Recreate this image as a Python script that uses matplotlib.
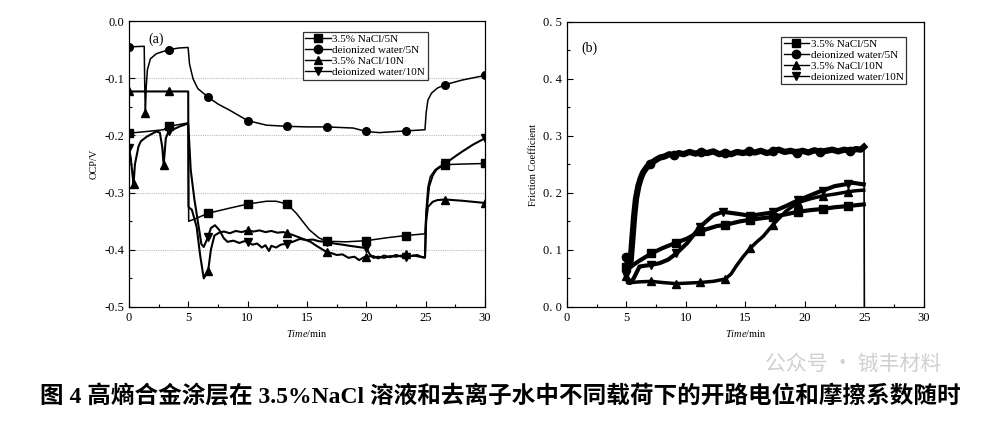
import numpy as np
import matplotlib
matplotlib.use("Agg")
import matplotlib.pyplot as plt
from matplotlib.lines import Line2D

plt.rcParams['font.family'] = ['Liberation Serif', 'Noto Sans CJK SC']
plt.rcParams['mathtext.fontset'] = 'custom'
plt.rcParams['mathtext.rm'] = 'Liberation Serif'
plt.rcParams['mathtext.it'] = 'Liberation Serif:italic'

labels = ["3.5% NaCl/5N", "deionized water/5N", "3.5% NaCl/10N", "deionized water/10N"]
markers = ["s", "o", "^", "v"]

# ---- (a) open circuit potential ----
sq_t = [0, 1.5, 2.9, 3.33, 4.2, 4.99, 5.03, 5.3, 6.0, 6.67, 8.5, 10, 11.6, 12.4, 13.33, 14.1, 15.2, 16.0,
        16.67, 18.3, 20, 21.7, 23.33, 24.95, 25.05, 25.2, 25.4, 25.8, 26.2, 26.67, 28.1, 30]
sq_v = [-0.196, -0.193, -0.19, -0.184, -0.181, -0.178, -0.350, -0.348, -0.342, -0.336, -0.327, -0.320,
        -0.315, -0.315, -0.320, -0.336, -0.365, -0.379, -0.385, -0.386, -0.384, -0.379, -0.375, -0.372,
        -0.330, -0.290, -0.272, -0.260, -0.254, -0.251, -0.250, -0.249]

ci_t = [0, 1.28, 1.33, 1.38, 1.45, 1.55, 1.8, 2.3, 3.33, 4.2, 4.98, 5.1, 5.4, 5.8, 6.67, 7.5, 8.5, 10,
        11.6, 13.33, 15, 16.67, 18.9, 20, 21.1, 23.33, 24.95, 25.05, 25.2, 25.5, 26.0, 26.67, 28.1, 30]
ci_v = [-0.045, -0.044, -0.120, -0.160, -0.115, -0.085, -0.066, -0.057, -0.050, -0.047, -0.046, -0.075,
        -0.101, -0.118, -0.133, -0.145, -0.156, -0.174, -0.182, -0.184, -0.185, -0.185, -0.187, -0.193,
        -0.195, -0.192, -0.190, -0.160, -0.138, -0.126, -0.117, -0.111, -0.103, -0.095]

ut_t = [0, 3.33, 4.99, 5.01, 5.3, 5.7, 6.0, 6.3, 6.67, 6.9, 7.2, 7.6, 8.0, 8.5, 9.0, 9.5, 10, 10.5, 11,
        11.5, 12, 12.5, 13, 13.33, 13.8, 14.3, 14.8, 15.3, 15.8, 16.2, 16.67, 17.1, 17.5, 18, 18.5, 19,
        19.4, 19.8, 20, 20.6, 21, 21.5, 22, 22.5, 23, 23.33, 23.8, 24.3, 24.7, 24.95, 25.05, 25.2, 25.6,
        26.0, 26.67, 28, 30]
ut_v = [-0.123, -0.123, -0.123, -0.325, -0.330, -0.360, -0.410, -0.450, -0.437, -0.400, -0.375, -0.370,
        -0.368, -0.371, -0.367, -0.369, -0.366, -0.368, -0.366, -0.369, -0.367, -0.370, -0.369, -0.371,
        -0.374, -0.378, -0.382, -0.386, -0.393, -0.398, -0.404, -0.406, -0.409, -0.408, -0.414, -0.412,
        -0.418, -0.413, -0.412, -0.411, -0.415, -0.410, -0.413, -0.409, -0.412, -0.407, -0.411, -0.409,
        -0.413, -0.414, -0.350, -0.325, -0.316, -0.313, -0.312, -0.314, -0.318]

dt_t = [0, 0.15, 0.3, 0.38, 0.5, 0.8, 1.0, 1.5, 2.3, 2.6, 2.8, 2.92, 3.1, 3.33, 4.3, 4.99, 5.2, 5.5, 5.8,
        6.1, 6.3, 6.67, 6.9, 7.25, 7.6, 8.0, 8.3, 8.8, 9.3, 9.7, 10, 10.4, 10.8, 11.2, 11.5, 11.8, 12.0,
        12.4, 12.8, 13.33, 13.8, 14.4, 15, 15.5, 16, 16.67, 17.3, 18, 18.6, 19.3, 20, 20.3, 20.6, 21,
        21.5, 22, 22.5, 23, 23.33, 24, 24.5, 24.95, 25.05, 25.3, 25.6, 25.9, 26.67, 27.4, 28.1, 29, 30]
dt_v = [-0.222, -0.240, -0.270, -0.285, -0.250, -0.219, -0.210, -0.202, -0.193, -0.195, -0.220, -0.252,
        -0.205, -0.193, -0.184, -0.179, -0.260, -0.310, -0.350, -0.390, -0.395, -0.377, -0.362, -0.357,
        -0.365, -0.380, -0.386, -0.384, -0.388, -0.385, -0.386, -0.391, -0.389, -0.396, -0.392, -0.402,
        -0.393, -0.396, -0.391, -0.389, -0.386, -0.381, -0.383, -0.382, -0.385, -0.386, -0.389, -0.391,
        -0.393, -0.395, -0.397, -0.408, -0.414, -0.412, -0.414, -0.411, -0.412, -0.410, -0.412, -0.410,
        -0.412, -0.413, -0.340, -0.289, -0.270, -0.260, -0.249, -0.238, -0.228, -0.216, -0.205]

marks_a = [0, 3.33, 6.67, 10, 13.33, 16.67, 20, 23.33, 26.67, 30]
# extra triangle symbols sitting on the early spikes
spike_t = [0.38, 1.38, 2.92]
spike_v = [-0.285, -0.160, -0.252]

# ---- (b) friction coefficient ----
sq2_t = [4.95, 5.2, 6.0, 7.1, 8.0, 9.2, 10.1, 11.2, 12.6, 13.3, 14.5, 15.4, 16.5, 17.3, 18.5, 19.4,
         20.5, 21.5, 22.5, 23.6, 24.5, 24.95]
sq2_v = [0.071, 0.068, 0.080, 0.094, 0.103, 0.113, 0.120, 0.133, 0.142, 0.144, 0.150, 0.153, 0.156,
         0.158, 0.163, 0.167, 0.170, 0.172, 0.175, 0.177, 0.179, 0.180]

ci2_t = [4.98, 5.2, 5.35, 5.5, 5.65, 5.8, 6.0, 6.2, 6.4, 6.7, 7.0, 7.4, 7.8, 8.2, 8.6, 9.0, 9.4, 9.8,
         10.3, 10.8, 11.3, 11.8, 12.3, 12.8, 13.3, 13.8, 14.3, 14.8, 15.3, 15.8, 16.3, 16.8, 17.3, 17.8,
         18.3, 18.8, 19.3, 19.8, 20.3, 20.8, 21.3, 21.8, 22.3, 22.8, 23.3, 23.8, 24.3, 24.7, 24.97, 25.0]
ci2_v = [0.088, 0.070, 0.080, 0.120, 0.160, 0.190, 0.212, 0.226, 0.236, 0.245, 0.251, 0.257, 0.262,
         0.264, 0.268, 0.266, 0.270, 0.268, 0.272, 0.269, 0.272, 0.270, 0.273, 0.268, 0.271, 0.268, 0.272,
         0.270, 0.273, 0.271, 0.274, 0.270, 0.273, 0.276, 0.272, 0.274, 0.271, 0.274, 0.271, 0.275, 0.272,
         0.274, 0.276, 0.273, 0.276, 0.274, 0.277, 0.276, 0.281, 0.0]

ut2_t = [4.95, 5.1, 5.5, 6.0, 7.1, 8.0, 9.2, 10.2, 11.2, 12.3, 13.3, 13.8, 14.2, 14.8, 15.4, 16.0, 16.5,
         17.3, 18.4, 19.4, 20.5, 21.5, 22.5, 23.6, 24.3, 24.95]
ut2_v = [0.055, 0.042, 0.043, 0.044, 0.045, 0.043, 0.041, 0.042, 0.043, 0.045, 0.049, 0.058, 0.071,
         0.088, 0.103, 0.115, 0.124, 0.144, 0.168, 0.183, 0.190, 0.195, 0.198, 0.202, 0.204, 0.205]

dt2_t = [4.95, 5.3, 5.6, 6.1, 7.1, 7.8, 8.5, 9.2, 10.1, 11.2, 12.3, 13.1, 14.5, 15.4, 17.0, 17.3,
         18.5, 19.4, 20.0, 21.3, 21.5, 22.5, 23.6, 24.0, 24.95]
dt2_v = [0.056, 0.042, 0.050, 0.071, 0.074, 0.077, 0.083, 0.094, 0.112, 0.141, 0.161, 0.167, 0.163,
         0.160, 0.165, 0.167, 0.178, 0.187, 0.192, 0.203, 0.204, 0.212, 0.216, 0.218, 0.215]

marks_b = [5, 7.1, 9.2, 11.2, 13.3, 15.4, 17.3, 19.4, 21.5, 23.6]


def mark_idx(t, marks):
    t = np.asarray(t)
    return [int(np.argmin(np.abs(t - m))) for m in marks]


fig = plt.figure(figsize=(9.94, 4.21), dpi=100)
axa = fig.add_axes([0.1298, 0.2708, 0.358, 0.679])
axb = fig.add_axes([0.5704, 0.2708, 0.359, 0.677])

series_a = [(sq_t, sq_v, 1.1), (ci_t, ci_v, 1.1), (ut_t, ut_v, 1.5), (dt_t, dt_v, 1.5)]
for (t, v, lw), m in zip(series_a, markers):
    axa.plot(t, v, color='black', lw=lw, marker=m, ms=5.5, markevery=mark_idx(t, marks_a))
axa.plot(spike_t, spike_v, ls='none', marker='^', ms=5.5, color='black')

series_b = [(sq2_t, sq2_v, 3.0), (ci2_t[:-1], ci2_v[:-1], 4.5), (ut2_t, ut2_v, 2.5), (dt2_t, dt2_v, 3.0)]
for (t, v, lw), m in zip(series_b, markers):
    axb.plot(t, v, color='black', lw=lw, marker=m, ms=6, markevery=mark_idx(t, marks_b))
# end of the test: friction trace falls back to zero
axb.plot(ci2_t[-2:], ci2_v[-2:], color='black', lw=1.2)

# legend handles with thin lines as in the original
handles = [Line2D([], [], color='black', lw=1.0, marker=m, ms=6) for m in markers]

for ax, anchor in ((axa, (0.489, 0.962)), (axb, (0.601, 0.948))):
    ax.set_xlim(0, 30)
    ax.set_xticks(np.arange(0, 31, 5))
    ax.set_xticks(np.arange(0, 31, 2.5), minor=True)
    ax.tick_params(direction='in', which='major', length=4, width=0.8, labelsize=9)
    ax.tick_params(direction='in', which='minor', length=2, width=0.8)
    for s in ax.spines.values():
        s.set_linewidth(0.9)
    ax.set_xlabel(r"$\it{Time}$/min", fontsize=7.5, labelpad=3)
    leg = ax.legend(handles, labels, loc='upper left', bbox_to_anchor=anchor, fontsize=8,
                    frameon=True, fancybox=False, edgecolor='black', borderpad=0.2,
                    labelspacing=0.12, handlelength=2.3, handletextpad=0.15, borderaxespad=0.0)
    leg.get_frame().set_linewidth(0.9)

axa.set_ylim(-0.5, 0.0)
axa.set_yticks(np.arange(-0.5, 0.01, 0.1))
axa.set_yticks(np.arange(-0.5, 0.01, 0.05), minor=True)
axa.set_yticklabels(["-0.5", "-0.4", "-0.3", "-0.2", "-0.1", "0.0"])
for g in [-0.1, -0.2, -0.3, -0.4]:
    axa.axhline(g, color='#bbbbbb', lw=0.8, ls=(0, (1, 1)), zorder=0)
axa.set_ylabel("OCP/V", fontsize=7.5, labelpad=4)
axa.text(0.055, 0.96, "(a)", transform=axa.transAxes, fontsize=10, va='top')

axb.set_ylim(0, 0.5)
axb.set_yticks(np.arange(0, 0.51, 0.1))
axb.set_yticks(np.arange(0, 0.51, 0.05), minor=True)
axb.set_yticklabels(["0. 0", "0. 1", "0. 2", "0. 3", "0. 4", "0. 5"])
axb.set_ylabel("Friction Coefficient", fontsize=7.5, labelpad=4)
axb.text(0.04, 0.93, "(b)", transform=axb.transAxes, fontsize=10, va='top')

fig.text(0.503, 0.058, "图 4 高熵合金涂层在 3.5%NaCl 溶液和去离子水中不同载荷下的开路电位和摩擦系数随时",
         ha='center', va='center', fontsize=17, fontweight='bold')
fig.text(0.77, 0.135, "公众号 · 铖丰材料", fontsize=15, color='#d0d0d0',
         family=['Noto Sans CJK SC'], ha='left', va='center', zorder=-1)

fig.savefig("out.png", dpi=100)
